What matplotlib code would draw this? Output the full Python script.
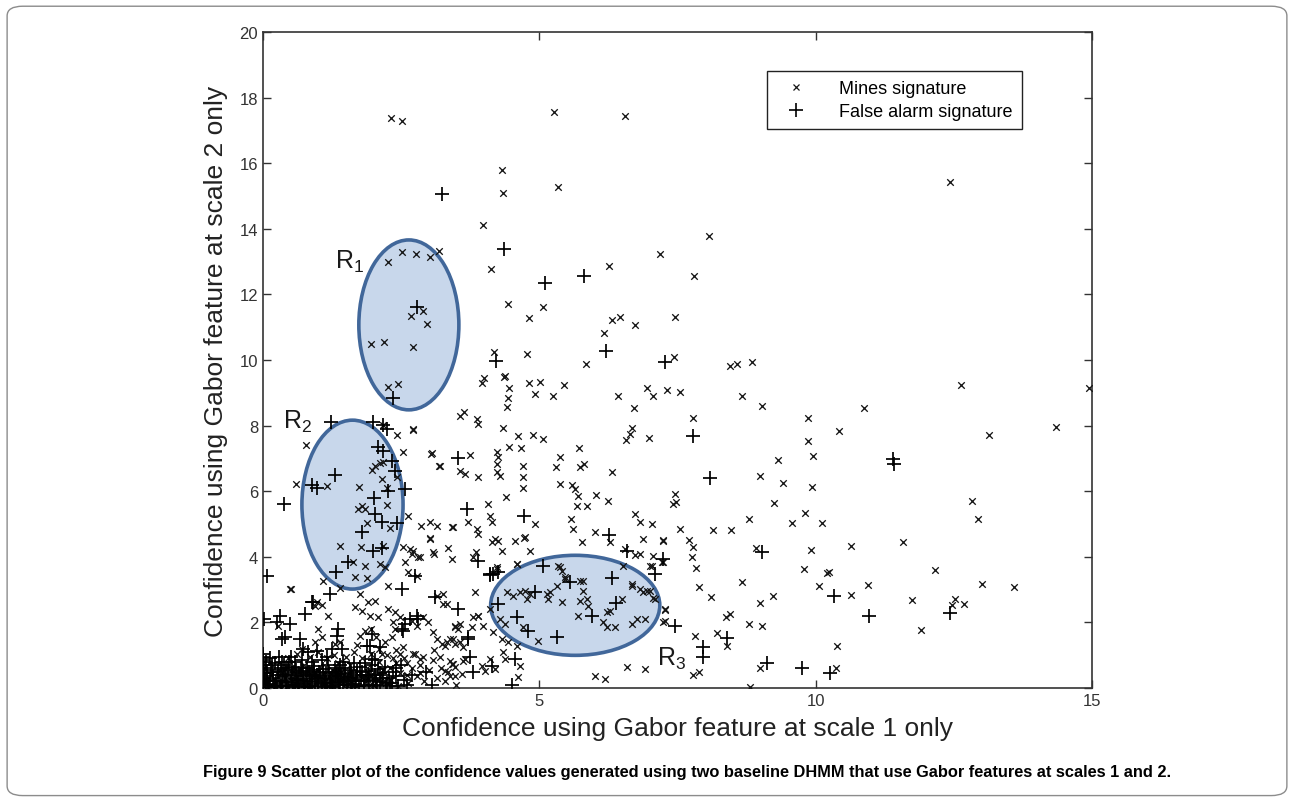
import matplotlib
matplotlib.use("Agg")
import matplotlib.pyplot as plt
from matplotlib.patches import Ellipse, FancyBboxPatch
from matplotlib.lines import Line2D

plt.rcParams['font.family'] = ['Liberation Sans', 'DejaVu Sans']
plt.rcParams['mathtext.default'] = 'regular'

# ---------------- data ----------------
x_ticks = [0, 5, 10, 15]
y_ticks = [0, 2, 4, 6, 8, 10, 12, 14, 16, 18, 20]

mines_upper = [(2.32,17.39),(2.51,17.29),(5.27,17.56),(6.55,17.44),(12.43,15.43),(4.32,15.79),(4.34,15.09),
    (5.34,15.27),(3.98,14.12),(8.07,13.78),(4.12,12.77),(6.26,12.87),(7.18,13.23),(7.80,12.56),(4.43,11.71),
    (5.07,11.62),(4.81,11.28),(6.31,11.22),(6.46,11.31),(6.73,11.07),(7.45,11.31),(6.17,10.82),(4.18,10.24),
    (4.78,10.18),(5.84,9.88),(7.44,10.09),(8.45,9.82),(8.58,9.88),(4.00,9.45),(4.36,9.48),(4.81,9.30),
    (5.01,9.33),(5.45,9.24),(8.85,9.94),(7.31,9.09),(7.54,9.02),(12.63,9.24),(14.94,9.15),(3.96,9.30)]
mines_r1 = [(2.51,13.29),(2.77,13.23),(3.02,13.14),(3.18,13.32),(2.26,12.99),(2.89,11.49),(2.68,11.34),
    (2.97,11.10),(1.95,10.49),(2.19,10.55),(2.71,10.40),(2.26,9.18),(2.44,9.27)]
mines_mid = [(4.38,9.51),(4.45,9.15),(4.43,8.84),(4.41,8.57),(4.92,8.96),(5.25,8.90),(6.42,8.90),(6.71,8.54),
    (6.95,9.15),(7.06,8.90),(3.56,8.29),(3.64,8.41),(3.87,8.20),(3.89,8.05),(4.34,7.93),(4.61,7.68),(4.89,7.71),
    (5.07,7.59),(6.64,7.74),(6.68,7.93),(6.57,7.56),(6.98,7.62),(4.45,7.35),(4.67,7.32),(5.72,7.32),(3.04,7.13),
    (3.18,6.77),(3.75,7.10),(3.56,6.62),(3.65,6.52),(3.89,6.43),(4.23,7.20),(4.25,7.04),(4.23,6.83),(4.23,6.59),
    (4.29,6.46),(4.70,6.77),(4.70,6.43),(4.70,6.10),(5.37,7.04),(5.30,6.74),(5.37,6.22),(5.74,6.74),(5.81,6.83),
    (6.31,6.59),(5.59,6.19),(5.65,6.07),(5.70,5.85),(5.68,5.55),(5.86,5.55),(6.02,5.88),(6.24,5.70),(6.73,5.30),
    (6.82,5.06),(7.04,5.00),(4.40,5.82),(4.07,5.61),(4.11,5.24),(4.14,5.06),(3.71,5.06),(3.87,4.85),(3.89,4.70),
    (3.44,4.91),(3.42,3.93),(4.92,5.00),(5.57,5.15),(5.61,4.85),(5.77,4.45),(6.01,4.76),(6.28,4.45),(6.55,4.24),
    (6.88,4.54),(7.24,4.48),(6.73,4.06),(6.82,4.09),(7.06,4.02),(4.14,4.45),(4.20,4.54),(4.25,4.48),(4.32,4.18),
    (4.56,4.48),(4.72,4.57),(4.74,4.60),(4.83,4.18),(3.85,4.15),(3.80,3.99),(3.02,4.54),(3.08,4.15),(4.23,3.63),
    (4.60,3.78),(5.37,3.69),(5.41,3.57),(5.46,3.32),(6.51,3.72),(7.00,3.72),(2.71,7.90)]
mines_right = [(8.67,8.90),(9.03,8.60),(7.78,8.23),(9.86,8.23),(9.86,7.53),(9.95,7.07),(10.42,7.84),(10.87,8.54),
    (13.13,7.71),(14.35,7.96),(9.32,6.95),(8.99,6.46),(9.41,6.25),(9.93,6.13),(7.45,5.91),(7.47,5.67),(7.42,5.61),
    (9.25,5.64),(8.79,5.15),(9.81,5.34),(9.57,5.03),(10.11,5.03),(12.83,5.70),(12.94,5.15),(7.54,4.85),(8.14,4.82),
    (8.47,4.82),(7.24,4.51),(7.71,4.51),(7.78,4.30),(7.76,3.99),(8.92,4.27),(9.91,4.21),(10.64,4.33),(11.58,4.45),
    (7.24,3.84),(7.83,3.66),(9.79,3.63),(10.20,3.51),(10.24,3.53),(12.16,3.60),(8.67,3.23),(7.89,3.08),(10.06,3.11),
    (10.95,3.14),(13.01,3.17),(13.59,3.08),(8.11,2.77),(9.23,2.80),(10.64,2.84),(8.99,2.59),(11.74,2.68),
    (12.52,2.71),(12.47,2.53),(12.68,2.56),(7.27,2.38),(8.38,2.16),(8.45,2.26),(7.24,2.01),(8.79,1.95),(9.03,1.89),
    (11.90,1.77),(7.82,1.59),(8.21,1.68),(8.40,1.28),(10.39,1.28),(7.78,0.40),(7.89,0.49),(8.99,0.61),(10.37,0.61),
    (8.81,0.02)]
mines_r3 = [(4.41,2.93),(4.52,2.80),(4.65,2.93),(4.74,2.96),(4.83,2.87),(4.78,2.71),(5.14,2.87),(5.16,2.71),
    (5.19,2.93),(5.32,3.11),(5.41,2.62),(5.74,3.26),(5.79,2.96),(5.74,2.65),(5.86,2.71),(5.88,2.50),(6.68,3.17),
    (6.82,3.02),(6.88,2.93),(7.00,2.96),(7.06,2.74),(6.50,2.71),(5.70,2.20),(6.22,2.32),(6.28,2.35),(6.15,2.01),
    (6.22,1.86),(6.37,1.86),(6.68,1.95),(6.77,2.10),(6.91,2.10),(4.11,2.41),(4.29,2.10),(4.38,1.95),(4.70,1.86),
    (4.98,1.43),(5.34,3.72),(5.46,3.38),(5.79,3.26),(6.68,3.11),(6.95,2.96),(7.09,2.71)]
mines_lowmid = [(3.26,2.87),(3.33,2.56),(3.84,2.93),(3.89,2.20),(3.98,1.89),(3.47,1.89),(3.53,1.80),(3.78,1.86),
    (3.38,1.49),(3.47,1.34),(3.62,1.25),(3.29,1.28),(3.44,0.73),(3.65,0.88),(3.29,0.52),(3.38,0.37),(3.47,0.37),
    (3.60,0.43),(3.96,0.67),(4.02,0.52),(4.11,0.88),(4.20,0.58),(4.34,1.10),(4.38,0.88),(4.65,0.67),(4.61,0.34),
    (4.16,1.71),(4.32,1.49),(4.43,1.40),(4.60,1.28),(6.01,0.37),(6.19,0.27),(6.59,0.64),(6.91,0.58),(4.23,3.69),
    (4.60,3.78),(7.04,3.72),(7.22,3.84),(7.27,2.41),(7.27,2.04)]
mines_r2 = [(2.17,8.02),(2.42,7.71),(2.71,7.87),(0.78,7.41),(2.53,7.20),(3.06,7.16),(3.20,6.77),(1.97,6.65),
    (2.03,6.77),(2.12,6.86),(2.17,6.89),(2.15,6.37),(2.42,6.43),(0.60,6.22),(1.16,6.16),(1.74,6.13),(2.24,6.10),
    (2.24,5.58),(1.72,5.46),(1.79,5.55),(1.85,5.46),(2.62,5.24),(1.88,5.03),(2.30,4.88),(2.86,4.94),(3.02,5.06),
    (3.15,4.94),(3.42,4.91),(3.02,4.57),(1.39,4.33),(1.77,4.30),(2.17,4.33),(2.53,4.30),(2.66,4.24),(2.70,4.09),
    (2.80,3.99),(3.09,4.09),(3.35,4.27),(1.63,3.84),(1.85,3.72),(2.12,3.78),(2.21,3.69),(1.66,3.38),(1.88,3.35),
    (1.09,3.26),(0.51,3.02),(2.26,3.11),(1.39,3.05),(1.76,2.87),(2.62,3.54),(2.79,3.41),(2.57,3.84),(2.71,4.18),
    (2.84,3.99)]
mines_low = [(0.27,1.89),(1.00,1.80),(1.07,1.55),(1.76,1.59),(1.85,1.74),(2.39,1.80),(2.33,1.55),(0.94,1.40),
    (1.39,1.40),(2.53,1.25),(2.48,1.04),(2.71,1.04),(2.84,0.88),(3.38,0.82),(3.62,0.82),(3.47,0.64),(3.42,0.73),
    (0.94,2.50),(1.07,2.53),(1.18,2.20),(1.66,2.47),(1.79,2.35),(1.90,2.62),(2.03,2.65),(1.94,2.20),(2.08,2.16),
    (2.26,2.41),(2.39,2.32),(2.48,2.16),(2.35,2.01),(2.70,2.04),(2.79,1.89),(3.15,2.80),(3.26,2.56),(2.89,2.16),
    (2.99,2.01),(3.08,1.71),(3.15,1.49),(3.24,1.34),(3.33,1.40),(3.44,1.49),(3.56,1.40),(3.47,1.86),(3.56,1.95),
    (3.80,2.16),(3.89,2.20),(0.49,3.02),(0.98,2.62)]
mines_dense = [(0.30,0.55),(0.45,0.90),(0.55,0.20),(0.62,1.05),(0.75,0.70),(0.85,0.95),(0.90,0.30),(1.00,1.10),
    (1.05,0.60),(1.15,0.90),(1.20,0.35),(1.28,1.00),(1.35,0.75),(1.42,0.50),(1.50,0.95),(1.58,0.70),(1.65,1.10),
    (1.72,0.40),(1.80,0.90),(1.88,0.60),(1.95,1.05),(2.02,0.35),(2.10,0.80),(2.18,0.55),(2.25,1.00),(2.32,0.25),
    (2.40,0.75),(2.48,0.45),(2.55,0.90),(2.62,0.15),(2.70,0.60),(2.78,0.35),(2.85,0.70),(2.92,0.20),(3.00,0.55),
    (3.08,0.85),(3.15,0.30),(3.22,0.60),(1.10,0.15),(1.60,0.20),(2.00,0.10),(2.45,0.05),(0.95,0.50),(1.45,0.25),
    (1.85,0.15),(2.20,0.20),(2.60,0.40),(2.90,0.95),(3.30,0.20),(3.50,0.10),(1.30,1.35),(1.70,1.30),(2.10,1.20),
    (2.40,1.15),(0.70,1.20),(0.40,0.30),(1.25,0.55),(1.55,0.45),(1.90,0.50),(2.30,0.60),(2.75,1.05),(3.10,1.15),
    (2.05,1.55),(2.20,1.40),(1.95,1.80),(2.60,0.75),(2.85,0.45),(3.20,0.95),(3.35,0.50),(2.35,0.90),(2.15,1.05)]

false_upper = [(3.24,15.06),(4.36,13.38),(5.10,12.35),(5.81,12.56),(2.79,11.62),(6.21,10.27),(4.22,9.97),
    (7.27,9.94),(2.35,8.84)]
false_mid = [(3.53,7.01),(3.69,5.46),(4.72,5.24),(6.26,4.66),(6.59,4.18),(7.09,3.48),(3.89,3.87),(4.11,3.45),
    (4.16,3.48),(5.07,3.72),(5.55,3.23),(6.31,3.35),(7.24,3.93)]
false_right = [(7.78,7.68),(11.40,6.98),(11.42,6.83),(8.09,6.40),(9.03,4.15),(10.33,2.80),(12.43,2.29),
    (10.96,2.20),(7.45,1.89),(8.40,1.52),(7.96,1.25),(7.96,0.95),(9.12,0.76),(9.75,0.61),(10.26,0.46)]
false_r3 = [(4.92,2.93),(6.39,2.59),(5.95,2.20),(4.25,2.56),(4.60,2.16),(4.79,1.74),(5.32,1.55),(3.53,2.41),
    (3.71,1.55),(3.80,0.49),(4.14,0.67),(4.56,0.88),(4.51,0.09),(4.11,3.48),(4.25,3.54)]
false_r2 = [(1.23,8.11),(1.99,8.11),(2.17,8.02),(2.24,7.90),(2.08,7.35),(2.17,7.23),(2.33,6.92),(2.39,6.62),
    (1.30,6.49),(0.89,6.19),(0.98,6.10),(2.26,6.01),(2.57,6.07),(0.38,5.61),(2.01,5.79),(2.03,5.30),(2.15,5.06),
    (2.42,5.03),(1.79,4.76),(1.99,4.18),(2.15,4.27),(1.54,3.84),(1.32,3.54),(0.07,3.41),(2.51,3.02),(1.21,2.87),
    (0.89,2.62),(0.76,2.26),(2.75,3.41)]
false_low = [(0.31,2.20),(0.25,2.01),(0.49,1.95),(0.34,1.49),(0.40,1.55),(0.67,1.49),(1.36,1.80),(1.34,1.59),
    (1.97,1.65),(2.53,1.74),(1.88,1.28),(3.75,0.95),(2.57,1.95),(2.51,1.80),(2.79,2.20),(3.11,2.77),(3.71,1.49),
    (0.90,2.62),(0.02,2.10),(0.72,1.19),(0.81,1.10),(0.98,1.13),(1.25,1.19),(1.43,1.19),(2.12,1.25),(2.66,2.10),
    (2.80,2.10),(1.94,1.28),(1.97,0.88)]
false_dense = [(0.05,0.10),(0.12,0.25),(0.20,0.05),(0.28,0.40),(0.35,0.15),(0.42,0.55),(0.50,0.30),(0.58,0.08),
    (0.65,0.45),(0.72,0.20),(0.80,0.62),(0.88,0.35),(0.95,0.12),(1.02,0.50),(1.10,0.28),(1.18,0.70),(1.25,0.05),
    (1.32,0.42),(1.40,0.18),(1.48,0.60),(1.55,0.33),(1.62,0.10),(1.70,0.52),(1.78,0.25),(1.85,0.75),(1.92,0.40),
    (2.00,0.08),(2.08,0.58),(2.15,0.30),(2.25,0.15),(2.35,0.48),(2.45,0.05),(2.55,0.25),(0.08,0.45),(0.16,0.70),
    (0.24,0.20),(0.32,0.62),(0.40,0.35),(0.48,0.80),(0.56,0.50),(0.64,0.15),(0.70,0.85),(0.78,0.40),(0.86,0.05),
    (0.92,0.68),(1.00,0.22),(1.06,0.85),(1.14,0.45),(1.22,0.15),(1.30,0.62),(1.36,0.30),(1.44,0.80),(1.52,0.08),
    (1.60,0.45),(1.68,0.20),(1.76,0.65),(1.82,0.05),(1.90,0.30),(1.98,0.70),(2.05,0.22),(2.12,0.45),(2.20,0.65),
    (2.30,0.05),(0.02,0.30),(0.03,0.60),(0.10,0.02),(0.18,0.50),(0.26,0.02),(0.34,0.80),(0.44,0.05),(0.52,0.65),
    (0.60,0.28),(0.68,0.60),(0.76,0.02),(0.84,0.50),(0.98,0.40),(1.12,0.02),(1.26,0.35),(1.38,0.55),(1.46,0.25),
    (0.00,1.05),(0.00,0.95),(0.00,0.85),(0.00,0.15),(2.60,0.10),(2.70,0.40),(2.50,0.70),(3.05,0.10),(2.95,0.50)]
false_core = [(0.04,0.20),(0.07,0.38),(0.11,0.12),(0.14,0.55),(0.19,0.30),(0.22,0.08),(0.27,0.48),(0.30,0.22),
    (0.33,0.05),(0.37,0.42),(0.41,0.18),(0.45,0.62),(0.47,0.10),(0.53,0.40),(0.55,0.02),(0.59,0.55),(0.62,0.25),
    (0.66,0.05),(0.69,0.38),(0.73,0.52),(0.75,0.12),(0.79,0.28),(0.82,0.04),(0.85,0.42),(0.89,0.18),(0.93,0.55),
    (0.96,0.30),(0.99,0.06),(1.03,0.35),(1.07,0.15),(1.09,0.58),(1.13,0.30),(1.16,0.08),(1.20,0.48),(1.23,0.25),
    (1.27,0.02),(1.31,0.18),(1.34,0.50),(1.37,0.08),(1.41,0.35),(1.45,0.12),(1.49,0.42),(1.53,0.22),(1.57,0.55),
    (1.59,0.04),(1.63,0.30),(1.66,0.12),(1.71,0.40),(1.74,0.05),(1.79,0.48),(1.83,0.20),(1.87,0.35),(1.91,0.10),
    (1.95,0.52),(1.99,0.25),(2.03,0.40),(2.07,0.05),(2.11,0.18),(2.17,0.40),(2.22,0.08),(2.28,0.30),(2.33,0.15),
    (2.40,0.35),(0.01,0.45),(0.01,0.70),(0.06,0.80),(0.13,0.92),(0.21,0.75),(0.29,0.95),(0.38,0.70),(0.50,0.95),
    (0.58,0.78),(0.88,0.80),(1.15,0.95),(1.40,0.70),(1.65,0.75),(2.02,0.85),(2.40,0.62)]

# highlighted regions
region_names = ['R$_1$', 'R$_2$', 'R$_3$']
region_cx = [2.64, 1.62, 5.65]
region_cy = [11.07, 5.59, 2.52]
region_w = [1.81, 1.83, 3.06]
region_h = [5.18, 5.15, 3.05]
region_lx = [1.30, 0.36, 7.13]
region_ly = [12.80, 7.92, 0.72]

mines = (mines_upper + mines_r1 + mines_mid + mines_right + mines_r3 + mines_lowmid
         + mines_r2 + mines_low + mines_dense)
false_alarms = false_upper + false_mid + false_right + false_r3 + false_r2 + false_low + false_dense + false_core

# ---------------- figure ----------------
fig = plt.figure(figsize=(12.94, 8.03), dpi=100)
fig.patches.append(FancyBboxPatch((0.0055, 0.008), 0.989, 0.983, boxstyle="round,pad=0,rounding_size=0.012",
                                  transform=fig.transFigure, facecolor='none', edgecolor='#8c8c8c',
                                  lw=1.0, zorder=-5))

ax = fig.add_axes([0.2032, 0.1420, 0.6407, 0.8169])

for cx, cy, w, h, name, lx, ly in zip(region_cx, region_cy, region_w, region_h, region_names, region_lx, region_ly):
    ax.add_patch(Ellipse((cx, cy), w, h, facecolor='#c8d7eb', edgecolor='#41679a', lw=2.6, zorder=1))
    ax.text(lx, ly, name, fontsize=18, color='#1a1a1a', zorder=4)

ax.scatter([p[0] for p in mines], [p[1] for p in mines], marker='x', s=22, linewidths=0.95,
           color='#151515', zorder=3)
ax.scatter([p[0] for p in false_alarms], [p[1] for p in false_alarms], marker='+', s=95, linewidths=1.25,
           color='#000000', zorder=3)

ax.set_xlim(0, 15)
ax.set_ylim(0, 20)
ax.set_xticks(x_ticks)
ax.set_yticks(y_ticks)
ax.tick_params(direction='in', length=6, width=1, top=True, right=True, labelsize=12, colors='#333333',
               labelcolor='#333333')
for sp in ax.spines.values():
    sp.set_linewidth(1.2)
    sp.set_color('#333333')

ax.set_xlabel('Confidence using Gabor feature at scale 1 only', fontsize=19, labelpad=6, color='#222222')
ax.set_ylabel('Confidence using Gabor feature at scale 2 only', fontsize=19, labelpad=8, color='#222222')

handles = [Line2D([], [], marker='x', ls='none', color='#151515', markersize=5, markeredgewidth=0.9),
           Line2D([], [], marker='+', ls='none', color='#000000', markersize=10, markeredgewidth=1.2)]
leg = ax.legend(handles, ['Mines signature', 'False alarm signature'], loc='upper left',
                bbox_to_anchor=(0.608, 0.9405), fancybox=False, framealpha=1, edgecolor='#222222',
                prop={'size': 13}, borderpad=0.5, handletextpad=1.3, labelspacing=0.35, borderaxespad=0,
                handlelength=2.2)
leg.get_frame().set_linewidth(1.0)

fig.text(0.157, 0.038, 'Figure 9 Scatter plot of the confidence values generated using two baseline DHMM '
         'that use Gabor features at scales 1 and 2.', fontsize=11.8, fontweight='bold', ha='left', va='center')

fig.savefig('out.png', dpi=100)
